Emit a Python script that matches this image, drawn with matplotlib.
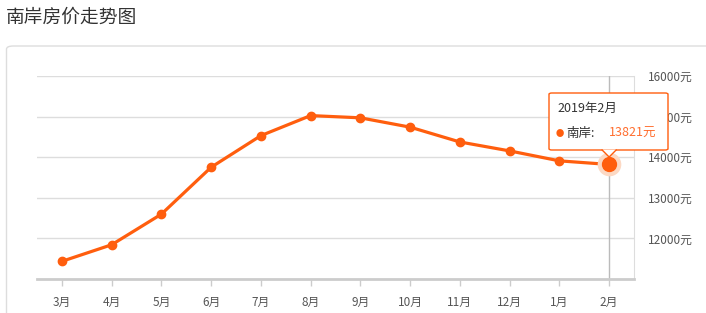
import matplotlib.pyplot as plt
from matplotlib.patches import FancyBboxPatch

plt.rcParams['font.family'] = ['Noto Sans CJK SC', 'DejaVu Sans']

months = ["3月", "4月", "5月", "6月", "7月", "8月", "9月", "10月", "11月", "12月", "1月", "2月"]
prices = [11435, 11843, 12597, 13752, 14531, 15025, 14970, 14740, 14375, 14155, 13910, 13821]
y_ticks = [12000, 13000, 14000, 15000, 16000]
title = "南岸房价走势图"
series_name = "南岸"
tip_title = "2019年2月"

line_color = "#ff5e0e"
W, H = 706, 313

fig = plt.figure(figsize=(W / 100, H / 100), dpi=100)

# outer card frame
frame = FancyBboxPatch((6.5 / W, -0.1), 1.2, (H - 46) / H + 0.1,
                       boxstyle="round,pad=0,rounding_size=0.01",
                       transform=fig.transFigure, facecolor="none",
                       edgecolor="#dddddd", linewidth=1, zorder=-1)
fig.patches.append(frame)

fig.text(6 / W, 1 - 17 / H, title, fontsize=13.5, color="#333333",
         ha="left", va="center")

ax = fig.add_axes([37 / W, 1 - 279 / H, (634 - 37) / W, (279 - 76) / H])
ax.set_facecolor("none")
x = list(range(len(months)))

ax.set_xlim(-0.5, len(months) - 0.5)
ax.set_ylim(11000, 16000)
ax.set_yticks(y_ticks)
ax.set_yticklabels([f"{v}元" for v in y_ticks])
ax.yaxis.tick_right()
ax.tick_params(axis="y", length=0, pad=10, labelsize=8.5, labelcolor="#555555")
ax.set_xticks(x)
ax.set_xticklabels(months)
ax.tick_params(axis="x", length=5, width=1, color="#cccccc", pad=7,
               labelsize=8.5, labelcolor="#555555")
ax.grid(axis="y", color="#dddddd", linewidth=1)
ax.set_axisbelow(True)
for s in ["top", "left"]:
    ax.spines[s].set_visible(False)
ax.spines["right"].set_color("#dddddd")
ax.spines["bottom"].set_color("#cccccc")
ax.spines["bottom"].set_linewidth(2)

# axis pointer at last month
ax.axvline(x[-1], color="#bbbbbb", linewidth=1, zorder=1)

ax.plot(x, prices, color=line_color, linewidth=2.3, marker="o",
        markersize=6, zorder=3, clip_on=False)
ax.plot(x[-1], prices[-1], "o", color="#fcd9c4", markersize=16, zorder=3)
ax.plot(x[-1], prices[-1], "o", color=line_color, markersize=10, zorder=4)

# tooltip
bx0, bx1, by0, by1 = 549, 668, 93, 150
tip = FancyBboxPatch((bx0 / W, 1 - by1 / H), (bx1 - bx0) / W, (by1 - by0) / H,
                     boxstyle="round,pad=0,rounding_size=0.004",
                     transform=fig.transFigure, facecolor="white",
                     edgecolor=line_color, linewidth=1, zorder=10)
fig.patches.append(tip)
ax_px = 37 + (634 - 37) * (x[-1] + 0.5) / len(months)
arrow = plt.Polygon([((ax_px - 7) / W, 1 - (by1 - 0.5) / H),
                     ((ax_px + 7) / W, 1 - (by1 - 0.5) / H),
                     (ax_px / W, 1 - (by1 + 7) / H)],
                    closed=False, transform=fig.transFigure,
                    facecolor="white", edgecolor="none", zorder=11)
fig.patches.append(arrow)
fig.lines.append(plt.Line2D([(ax_px - 7) / W, ax_px / W, (ax_px + 7) / W],
                            [1 - by1 / H, 1 - (by1 + 7) / H, 1 - by1 / H],
                            transform=fig.transFigure, color=line_color,
                            linewidth=1, zorder=12))
fig.text(557 / W, 1 - 108 / H, tip_title, fontsize=9, color="#333333",
         ha="left", va="center", zorder=13)
fig.text(556 / W, 1 - 133 / H, "●", fontsize=6, color=line_color,
         ha="left", va="center", zorder=13)
fig.text(566 / W, 1 - 133 / H, f"{series_name}:", fontsize=9, color="#333333",
         ha="left", va="center", zorder=13)
fig.text(609 / W, 1 - 133 / H, f"{prices[-1]}元", fontsize=9, color="#ff6d2d",
         ha="left", va="center", zorder=13)

fig.savefig("out.png", dpi=100)
